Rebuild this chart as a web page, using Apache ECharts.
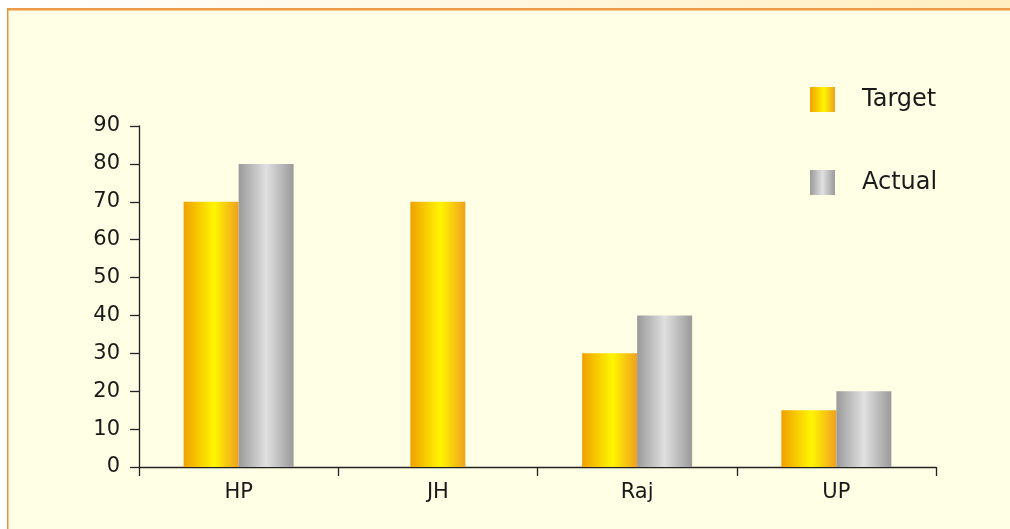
<!DOCTYPE html>
<html>
<head>
<meta charset="utf-8">
<script src="https://cdn.jsdelivr.net/npm/echarts@6/dist/echarts.min.js"></script>
<style>
html,body{margin:0;padding:0;background:#fff;}
#chart{width:1010px;height:529px;}
</style>
</head>
<body>
<div id="chart"></div>
<script>
const categories = ['HP', 'JH', 'Raj', 'UP'];
const targetValues = [70, null, 30, 15];
const actualValues = [80, null, 40, 20];
const soloTargetValues = [null, 70, null, null];
const yTicks = { min: 0, max: 90, interval: 10 };

const targetGrad = {
  type: 'linear', x: 0, y: 0, x2: 1, y2: 0,
  colorStops: [
    { offset: 0, color: '#F0A000' },
    { offset: 0.55, color: '#FFF600' },
    { offset: 1, color: '#EFA020' }
  ]
};
const actualGrad = {
  type: 'linear', x: 0, y: 0, x2: 1, y2: 0,
  colorStops: [
    { offset: 0, color: '#9A9A9A' },
    { offset: 0.5, color: '#E0E0E0' },
    { offset: 1, color: '#9A9A9A' }
  ]
};
const font = 'DejaVu Sans';
const chart = echarts.init(document.getElementById('chart'), null, { renderer: 'canvas' });
chart.setOption({
  backgroundColor: '#ffffff',
  animation: false,
  graphic: [
    { type: 'rect', z: -10, shape: { x: 0, y: 0, width: 1010, height: 8 },
      style: { fill: { type: 'linear', x: 0, y: 0, x2: 1, y2: 0,
        colorStops: [{ offset: 0, color: '#FFFFFF' }, { offset: 1, color: '#FFEEBE' }] } } },
    { type: 'rect', z: -10, shape: { x: 7, y: 8, width: 1003, height: 521 },
      style: { fill: '#FFFFE5' } },
    { type: 'rect', z: -9, shape: { x: 7, y: 8, width: 1003, height: 2.5 },
      style: { fill: '#EE9A48' } },
    { type: 'rect', z: -9, shape: { x: 7, y: 8, width: 1.5, height: 521 },
      style: { fill: '#E8913C' } }
  ],
  legend: {
    orient: 'vertical',
    left: 805,
    top: 82,
    itemWidth: 25,
    itemHeight: 25,
    itemGap: 58,
    icon: 'rect',
    textStyle: { fontFamily: font, fontSize: 24, color: '#1a1a1a', padding: [0, 0, 0, 22] },
    data: ['Target', 'Actual']
  },
  grid: { left: 139, right: 74, top: 126, bottom: 62 },
  xAxis: [
    {
      type: 'category',
      data: categories,
      axisLine: { lineStyle: { color: '#222', width: 1.3 } },
      axisTick: { show: true, alignWithLabel: false, interval: 0, length: 9, lineStyle: { color: '#222', width: 1.3 } },
      axisLabel: { fontFamily: font, fontSize: 21, color: '#1a1a1a', margin: 15 }
    },
    {
      type: 'category',
      data: categories,
      position: 'bottom',
      show: false
    }
  ],
  yAxis: {
    type: 'value',
    min: yTicks.min, max: yTicks.max, interval: yTicks.interval,
    axisLine: { show: true, lineStyle: { color: '#222', width: 1.3 } },
    axisTick: { show: true, length: 9, lineStyle: { color: '#222', width: 1.3 } },
    splitLine: { show: false },
    axisLabel: { fontFamily: font, fontSize: 21, color: '#1a1a1a', margin: 19 }
  },
  series: [
    { name: 'Target', type: 'bar', xAxisIndex: 0, data: targetValues, barWidth: 55, barGap: '0%',
      itemStyle: { color: targetGrad } },
    { name: 'Actual', type: 'bar', xAxisIndex: 0, data: actualValues, barWidth: 55, barGap: '0%',
      itemStyle: { color: actualGrad } },
    { name: 'Target', type: 'bar', xAxisIndex: 1, data: soloTargetValues, barWidth: 55,
      itemStyle: { color: targetGrad } }
  ]
});
</script>
</body>
</html>
